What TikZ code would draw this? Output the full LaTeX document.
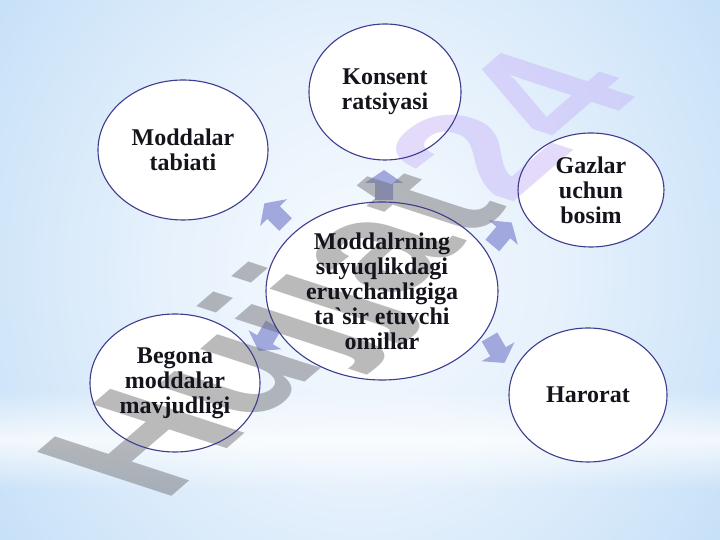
\documentclass[tikz,border=0pt]{standalone}
\usepackage{fontspec}
\setmainfont{Liberation Serif}
\newfontfamily\wmfont{Liberation Sans}
\usetikzlibrary{shapes.geometric,fadings}
\definecolor{bgA}{RGB}{246,250,254}
\definecolor{bgB}{RGB}{230,241,252}
\definecolor{bgC}{RGB}{192,221,247}
\definecolor{bgD}{RGB}{122,184,238}
\definecolor{bgE}{RGB}{112,178,236}
\definecolor{ringc}{RGB}{62,60,140}
\definecolor{arrc}{RGB}{160,168,222}
\definecolor{wmgray}{RGB}{105,105,108}
\definecolor{wmpurple}{RGB}{198,178,248}
\definecolor{txtc}{RGB}{20,20,28}
\pgfdeclareradialshading{bgshade}{\pgfpoint{0bp}{0bp}}{color(0bp)=(bgA); color(14bp)=(bgB); color(34bp)=(bgC); color(50bp)=(bgD); color(75bp)=(bgE)}
\tikzfading[name=bandfade, top color=transparent!100, bottom color=transparent!100, middle color=transparent!25]
\pgfdeclarelayer{bgl}
\pgfdeclarelayer{wml}
\pgfsetlayers{bgl,wml,main}
\begin{document}
\begin{tikzpicture}[x=1pt,y=1pt,
  bubble/.style={ellipse, draw=ringc, line width=1.1pt, inner sep=0pt,
    align=center, text=txtc, font=\bfseries\fontsize{24}{25}\selectfont},
  bubblefill/.style={fill=white},
  barrow/.pic={\fill[arrc] (0,15) -- (19,2) -- (9,2) -- (9,-15) -- (-9,-15) -- (-9,2) -- (-19,2) -- cycle;},
  wm/.style={inner sep=0pt, opacity=0.46, font=\wmfont\bfseries\fontsize{145}{145}\selectfont}
]
\useasboundingbox (0,0) rectangle (720,540);

% ellipses (outline and text)
\node[bubble, minimum width=232, minimum height=178] (ctr) at (382,249)
  {Moddalrning\\suyuqlikdagi\\eruvchanligiga\\ta\textasciigrave sir etuvchi\\omillar};
\node[bubble, minimum width=152, minimum height=136] (kons) at (385,448) {Konsent\\ratsiyasi};
\node[bubble, minimum width=170, minimum height=140] (modd) at (183,390) {Moddalar\\tabiati};
\node[bubble, minimum width=146, minimum height=114] (gaz) at (591,350) {Gazlar\\uchun\\bosim};
\node[bubble, minimum width=158, minimum height=134] (har) at (588,145) {Harorat};
\node[bubble, minimum width=170, minimum height=138] (beg) at (175,157) {Begona\\moddalar\\mavjudligi};

\begin{pgfonlayer}{bgl}
% background
\shade[shading=bgshade] (0,-120) rectangle (720,660);
\fill[white, path fading=bandfade] (0,50) rectangle (720,150);
% block arrows
\pic[rotate=0]    at (384,355) {barrow};
\pic[rotate=45]   at (275,326) {barrow};
\pic[rotate=-40]  at (502,306) {barrow};
\pic[rotate=-150] at (497,190) {barrow};
\pic[rotate=150]  at (266,202) {barrow};
% ellipse fills
\foreach \n/\rx/\ry in {ctr/116/89, kons/76/68, modd/85/70, gaz/73/57, har/79/67, beg/85/69}
  \fill[bubblefill] (\n.center) ellipse [x radius=\rx, y radius=\ry];
\end{pgfonlayer}

% watermark
\begin{pgfonlayer}{wml}
\begin{scope}[cm={0.86,0.74,-1.348,0.441,(163,36)}, transform shape]
\node[wm, anchor=base west] (wmark) at (0,0) {\textcolor{wmgray}{Hujjat}\textcolor{wmpurple}{24}};
\end{scope}
\end{pgfonlayer}
\end{tikzpicture}
\end{document}
